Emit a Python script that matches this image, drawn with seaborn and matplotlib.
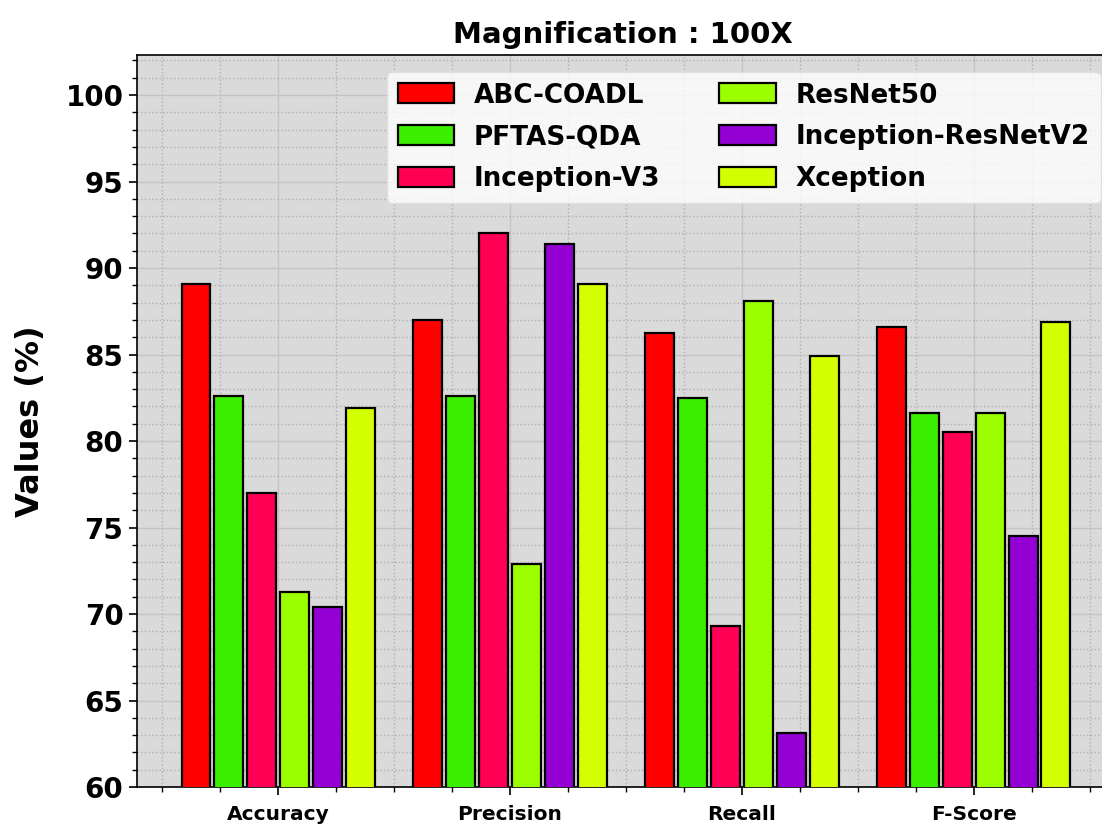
import pandas as pd
import matplotlib
matplotlib.use("Agg")
import matplotlib.pyplot as plt
import seaborn as sns
from matplotlib.ticker import MultipleLocator

# values
metrics = ["Accuracy", "Precision", "Recall", "F-Score"]
models = ["ABC-COADL", "PFTAS-QDA", "Inception-V3",
          "ResNet50", "Inception-ResNetV2", "Xception"]
abc_coadl = [89.1, 87.0, 86.25, 86.6]
pftas_qda = [82.6, 82.6, 82.5, 81.6]
inception_v3 = [77.0, 92.0, 69.3, 80.5]
resnet50 = [71.25, 72.9, 88.1, 81.6]
inception_resnetv2 = [70.4, 91.4, 63.1, 74.5]
xception = [81.9, 89.1, 84.9, 86.9]
colors = ["#ff0000", "#3cef00", "#ff0055", "#9cff00", "#9400d3", "#d4ff00"]

series = [abc_coadl, pftas_qda, inception_v3, resnet50, inception_resnetv2, xception]
rows = []
for m, vals in zip(models, series):
    for met, v in zip(metrics, vals):
        rows.append({"Metric": met, "Model": m, "Value": v})
df = pd.DataFrame(rows)

sns.set_style("white")
plt.rcParams["font.family"] = ["DejaVu Sans"]
plt.rcParams["font.weight"] = "bold"
plt.rcParams["text.color"] = "black"
plt.rcParams["axes.labelcolor"] = "black"
plt.rcParams["xtick.color"] = "black"
plt.rcParams["ytick.color"] = "black"

fig = plt.figure(figsize=(11.02, 8.25), dpi=100)
# the axes runs slightly past the right edge, as in the reference
ax = fig.add_axes([0.124, 0.046, 0.883, 0.887])
ax.set_facecolor("#dadada")

sns.barplot(data=df, x="Metric", y="Value", hue="Model", hue_order=models,
            palette=colors, width=0.85, gap=0.12, edgecolor="black",
            linewidth=1.6, saturation=1, ax=ax, zorder=3)

ax.set_ylim(60, 102.3)
ax.set_xlim(-0.61, 3.586)
ax.yaxis.set_major_locator(MultipleLocator(5))
ax.yaxis.set_minor_locator(MultipleLocator(1))
ax.xaxis.set_minor_locator(MultipleLocator(0.25))
ax.set_axisbelow(True)
ax.grid(which="major", color="#c4c4c4", linestyle="-", linewidth=1.0)
ax.grid(which="minor", color="#b0b0b0", linestyle=":", linewidth=1.0)

ax.tick_params(axis="y", which="major", labelsize=20, length=6, width=1.2, direction="out", left=True)
ax.tick_params(axis="y", which="minor", length=3.5, width=1.0, left=True)
ax.tick_params(axis="x", which="major", labelsize=14.5, length=6, width=1.2, bottom=True, pad=7)
ax.tick_params(axis="x", which="minor", length=3.5, width=1.0, bottom=True)
for lab in ax.get_xticklabels() + ax.get_yticklabels():
    lab.set_fontweight("bold")

for s in ax.spines.values():
    s.set_color("black")
    s.set_linewidth(1.2)

ax.set_xlabel("")
ax.set_ylabel("Values (%)", fontsize=23, fontweight="bold", labelpad=14)
ax.set_title("Magnification : 100X", fontsize=21, fontweight="bold", pad=9)

ax.legend(ncol=2, loc="upper right", bbox_to_anchor=(1100.5 / 1102, 1 - 71.5 / 825),
          bbox_transform=fig.transFigure, borderaxespad=0,
          prop={"weight": "bold", "size": 18.9},
          handlelength=2.15, handleheight=0.8, handletextpad=0.75,
          columnspacing=2.25, labelspacing=0.6, borderpad=0.42,
          framealpha=0.8, edgecolor="#dddddd")

fig.savefig("out.png", dpi=100)
